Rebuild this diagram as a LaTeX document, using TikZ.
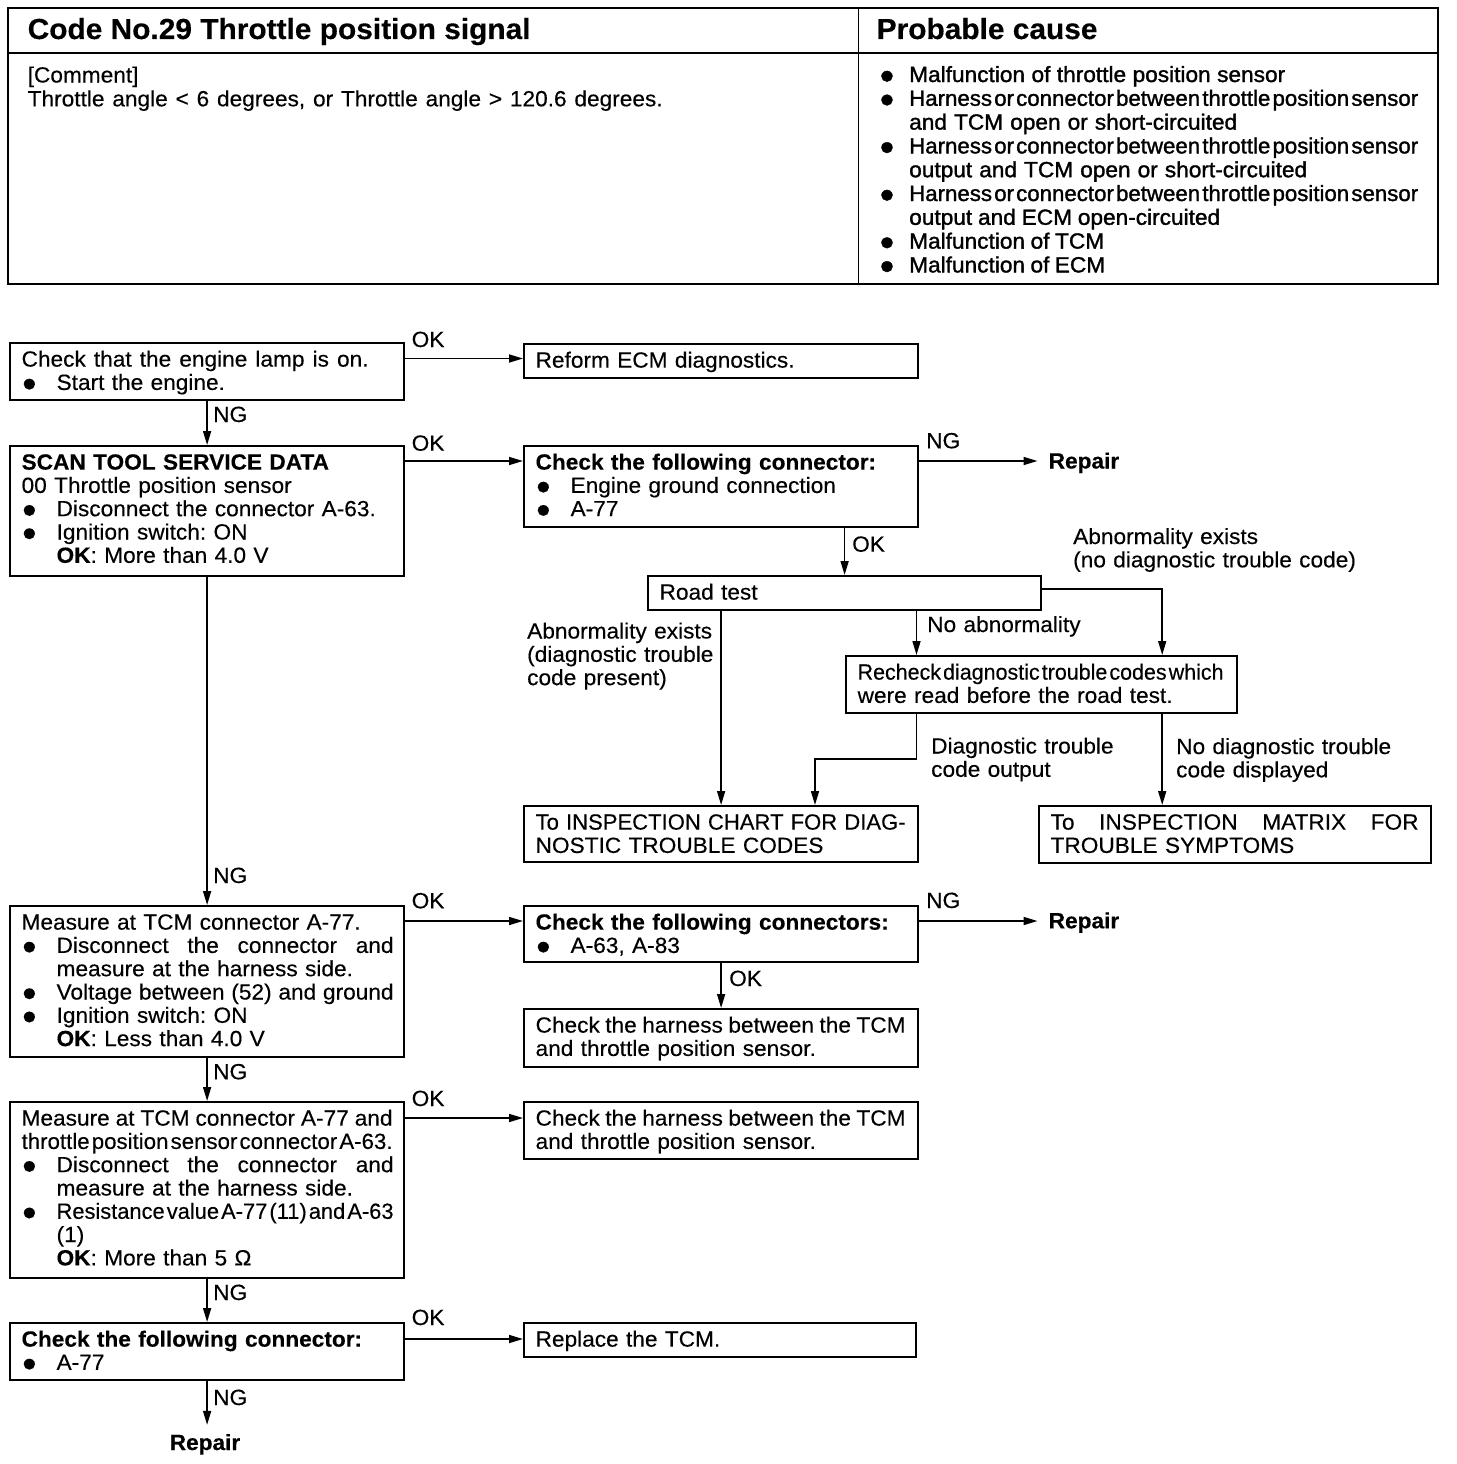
\documentclass[tikz,border=0pt]{standalone}
\usepackage{fontspec}
\usepackage{graphicx}
\setmainfont{Liberation Sans}[FakeStretch=1.03, FakeBold=0.3]
\newfontfamily\pcfont{Liberation Sans}[FakeStretch=1.03, FakeBold=1.4]
\usetikzlibrary{arrows.meta,calc}
\newcommand\jl[2]{{\spaceskip=.28em plus 3em minus .28em\relax\makebox[#1][s]{#2}}}
\newcommand\sq[2]{{\spaceskip=.1em\relax\resizebox{#1}{\height}{#2}}}
\newcommand\sqn[2]{\resizebox{#1}{\height}{#2}}
\newcommand\bult{\raisebox{-1.3pt}{\fontsize{25}{0}\selectfont ●}}
\newcommand\bul{\makebox[35pt][l]{\bult}}
\newcommand\ind{\hspace*{35pt}}
\newcommand\tbul{\makebox[30pt][l]{\raisebox{-1.3pt}{\fontsize{25}{0}\selectfont ●}}}
\newcommand\tind{\hspace*{30pt}}
\begin{document}
\frenchspacing
\begin{tikzpicture}[x=1pt,y=-1pt,
  every node/.style={inner sep=0pt},
  fc/.style={font=\fontsize{22}{23.3}\selectfont\frenchspacing},
  box/.style={draw, line width=2.2pt, anchor=north west, align=left, inner xsep=11.5pt, inner ysep=0pt, text height=23.5pt, text width=371pt, fc},
  lbl/.style={anchor=base west, align=left, text width=300pt, fc},
  rep/.style={anchor=base west, font=\fontsize{22}{23.3}\selectfont\bfseries},
  hdr/.style={anchor=base west, font=\fontsize{29}{32}\selectfont\bfseries},
  tl/.style={anchor=base west, align=left, text width=545pt, font=\fontsize{22}{23.8}\selectfont\frenchspacing},
  arr/.style={line width=1.6pt, -{Triangle[length=14pt,width=8pt]}},
]
\fill[white] (0,0) rectangle (1456,1464);
\useasboundingbox (0,0) rectangle (1456,1464);

% ---------- table ----------
\draw[line width=2.6pt] (8,8) rectangle (1438,284);
\draw[line width=1.8pt] (8,53) -- (1438,53);
\draw[line width=1.8pt] (858.5,8) -- (858.5,284);
\node[hdr] (hd1) at (27.5,39) {Code No.29 Throttle position signal};
\node[hdr] (hd2) at (876.5,39) {Probable cause};
\node[tl] (cmt) at (27.5,82.5) {[Comment]\\\jl{635pt}{Throttle angle < 6 degrees, or Throttle angle > 120.6 degrees.}};
\node[tl, font=\fontsize{22}{23.8}\selectfont\pcfont\frenchspacing] (pc) at (879,82) {\tbul\jl{376pt}{Malfunction of throttle position sensor}\\
\tbul\sq{509pt}{Harness or connector between throttle position sensor}\\
\tind\jl{328pt}{and TCM open or short-circuited}\\
\tbul\sq{509pt}{Harness or connector between throttle position sensor}\\
\tind\jl{398pt}{output and TCM open or short-circuited}\\
\tbul\sq{509pt}{Harness or connector between throttle position sensor}\\
\tind\jl{311pt}{output and ECM open-circuited}\\
\tbul\jl{195pt}{Malfunction of TCM}\\
\tbul\jl{196pt}{Malfunction of ECM}};

% ---------- boxes ----------
\node[box, text depth=33.5pt] (b1) at (9,342) {\jl{347pt}{Check that the engine lamp is on.}\\\bul Start the engine.};
\node[box, text depth=10.5pt] (reform) at (523,343) {Reform ECM diagnostics.};
\node[box, text depth=106.5pt] (b2) at (9,445) {\textbf{SCAN TOOL SERVICE DATA}\\00 Throttle position sensor\\\bul Disconnect the connector A-63.\\\bul Ignition switch: ON\\\ind\textbf{OK}: More than 4.0 V};
\node[box, text depth=57.5pt] (cc1) at (523,445) {\textbf{Check the following connector:}\\\bul Engine ground connection\\\bul A-77};
\node[box, text width=370pt, text depth=10.5pt] (road) at (647,575) {Road test};
\node[box, text width=368pt, text depth=33.5pt] (rech) at (845,655) {\sq{366pt}{Recheck diagnostic trouble codes which}\\were read before the road test.};
\node[box, text depth=32.5pt] (insp) at (523,805) {\sqn{370pt}{To INSPECTION CHART FOR DIAG-}\\NOSTIC TROUBLE CODES};
\node[box, text width=369pt, text depth=33.5pt] (matrix) at (1038,805) {\jl{368pt}{To INSPECTION MATRIX FOR}\\TROUBLE SYMPTOMS};
\node[box, text depth=127.5pt] (b3) at (9,905) {Measure at TCM connector A-77.\\\bul\jl{337pt}{Disconnect the connector and}\\\ind measure at the harness side.\\\bul\jl{337pt}{Voltage between (52) and ground}\\\bul Ignition switch: ON\\\ind\textbf{OK}: Less than 4.0 V};
\node[box, text depth=32.5pt] (cc2) at (523,905) {\textbf{Check the following connectors:}\\\bul A-63, A-83};
\node[box, text depth=34.5pt] (h1) at (523,1008) {\jl{370pt}{Check the harness between the TCM}\\and throttle position sensor.};
\node[box, text depth=152.5pt] (b4) at (9,1101) {\jl{371pt}{Measure at TCM connector A-77 and}\\\sq{371pt}{throttle position sensor connector A-63.}\\\bul\jl{337pt}{Disconnect the connector and}\\\ind measure at the harness side.\\\bul\sq{337pt}{Resistance value A-77 (11) and A-63}\\\ind(1)\\\ind\textbf{OK}: More than 5 Ω};
\node[box, text depth=33.5pt] (h2) at (523,1101) {\jl{370pt}{Check the harness between the TCM}\\and throttle position sensor.};
\node[box, text depth=33.5pt] (b5) at (9,1322) {\textbf{Check the following connector:}\\\bul A-77};
\node[box, text width=369pt, text depth=10.5pt] (repl) at (523,1322) {Replace the TCM.};

\node[rep] (r1) at (1048.5,468.5) {Repair};
\node[rep] (r2) at (1048.5,928.3) {Repair};
\node[rep, anchor=base] (r3) at (205,1450) {Repair};

% ---------- labels ----------
\node[lbl] (ok1) at (411.5,347) {OK};
\node[lbl] (ok2) at (411.5,450.7) {OK};
\node[lbl] (ok3) at (411.5,908.3) {OK};
\node[lbl] (ok4) at (411.5,1106) {OK};
\node[lbl] (ok5) at (411.5,1325) {OK};
\node[lbl] (ng1) at (213,422) {NG};
\node[lbl] (ng2) at (213,883) {NG};
\node[lbl] (ng3) at (213,1079.3) {NG};
\node[lbl] (ng4) at (213,1300) {NG};
\node[lbl] (ng5) at (213,1405) {NG};
\node[lbl] (ng6) at (926,448.3) {NG};
\node[lbl] (ng7) at (926,908) {NG};
\node[lbl] (ok6) at (852,551.7) {OK};
\node[lbl] (ok7) at (729,986) {OK};
\node[lbl] (la1) at (1073,544) {Abnormality exists\\(no diagnostic trouble code)};
\node[lbl] (la2) at (527,638.5) {Abnormality exists\\(diagnostic trouble\\code present)};
\node[lbl] (la3) at (927,632) {No abnormality};
\node[lbl] (la4) at (931,753.5) {Diagnostic trouble\\code output};
\node[lbl] (la5) at (1176,754) {No diagnostic trouble\\code displayed};

% ---------- connectors ----------
\coordinate (o1) at ([yshift=-16.5pt]b1.north east);
\draw[arr] (o1) -- (o1 -| reform.west);
\draw[arr] (b1.south) -- (b2.north);
\coordinate (o2) at ([yshift=-16pt]b2.north east);
\draw[arr] (o2) -- (o2 -| cc1.west);
\coordinate (o2b) at ([yshift=-16pt]cc1.north east);
\draw[arr, shorten >=11pt] (o2b) -- (o2b -| r1.west);
\draw[arr] (road.north |- cc1.south) -- (road.north);
\coordinate (rc) at ([yshift=4pt]road.east);
\coordinate (rx) at ([xshift=-76pt]rech.north east);
\draw[arr] (rc) -| (rx);
\coordinate (nx) at ([xshift=71.5pt]rech.north west);
\draw[arr] (nx |- road.south) -- (nx);
\draw[arr] (insp.north |- road.south) -- (insp.north);
\coordinate (ex) at ([xshift=292pt]insp.north west);
\draw[arr] (nx |- rech.south) -- ++(0,45) -| (ex);
\draw[arr] (rx |- rech.south) -- (rx |- matrix.north);

\draw[arr] (b2.south) -- (b3.north);
\coordinate (o3) at ([yshift=-16pt]b3.north east);
\draw[arr] (o3) -- (o3 -| cc2.west);
\coordinate (o3b) at ([yshift=-16pt]cc2.north east);
\draw[arr, shorten >=11pt] (o3b) -- (o3b -| r2.west);
\draw[arr] (cc2.south) -- (h1.north);
\draw[arr] (b3.south) -- (b4.north);
\coordinate (o4) at ([yshift=-17pt]b4.north east);
\draw[arr] (o4) -- (o4 -| h2.west);
\draw[arr] (b4.south) -- (b5.north);
\coordinate (o5) at ([yshift=-17pt]b5.north east);
\draw[arr] (o5) -- (o5 -| repl.west);
\draw[arr, shorten >=9pt] (b5.south) -- (b5.south |- r3.north);
\end{tikzpicture}
\end{document}
